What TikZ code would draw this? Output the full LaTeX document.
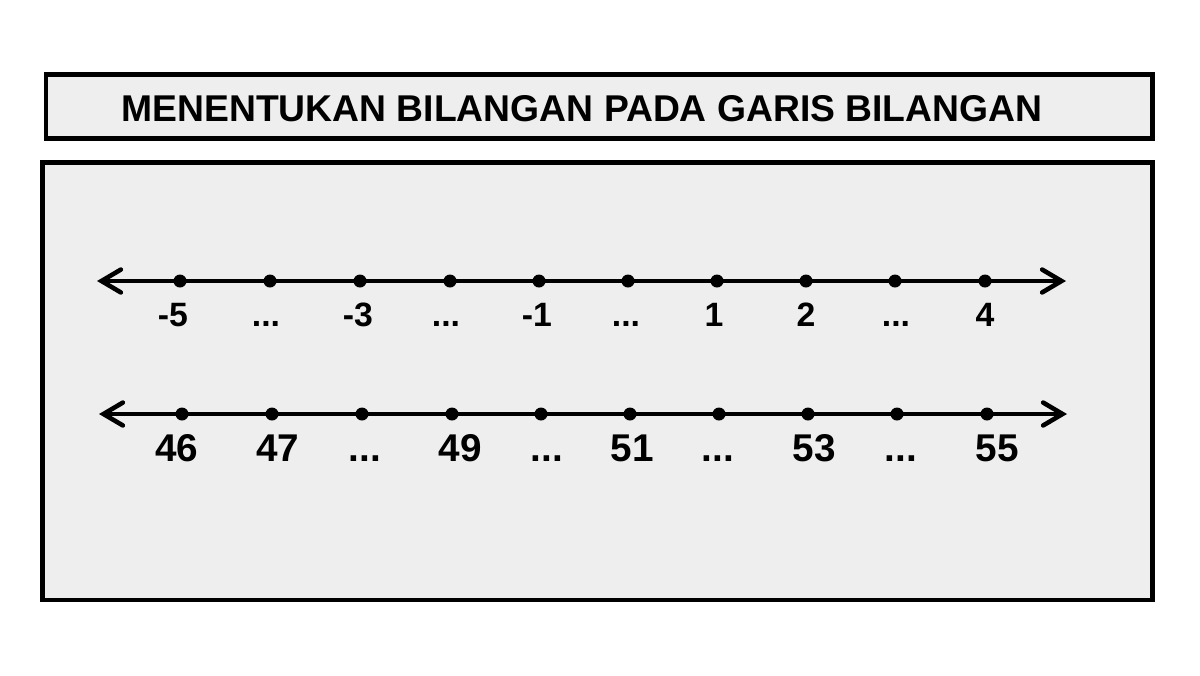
\documentclass[tikz,border=0pt]{standalone}
\usepackage{fontspec}
\setmainfont{Liberation Sans}
\usepackage{xcolor}
\usetikzlibrary{arrows.meta}

\definecolor{panelgray}{RGB}{238,238,238}
\newcommand{\kosong}{...}

\begin{document}
\begin{tikzpicture}[x=0.01cm, y=-0.01cm, line width=1.4pt,
  panel/.style={draw, fill=panelgray, line width=1.4pt},
  numline/.style={{Straight Barb[length=5.5pt,width=6.5pt,line cap=round]}-{Straight Barb[length=5.5pt,width=6.5pt,line cap=round]}, line width=1.3pt},
  dot/.style={circle, fill, inner sep=0pt, minimum size=0.13cm},
  numa/.style={anchor=base, font=\bfseries\fontsize{9.6pt}{11pt}\selectfont},
  numb/.style={anchor=base, font=\bfseries\fontsize{11pt}{13pt}\selectfont}]
\useasboundingbox (0,0) rectangle (1200,675);

% judul
\draw[panel] (46,74.5) rectangle (1152.5,138.5);
\node[anchor=base] (judul) at (582,121) {\bfseries\fontsize{10.6pt}{13pt}\selectfont MENENTUKAN BILANGAN PADA GARIS BILANGAN};

\draw[panel] (42.5,162.5) rectangle (1152.5,600);

% garis bilangan 1
\coordinate (a1) at (97,281);
\coordinate (a2) at (1066,281);
\draw[numline] (a1) -- (a2);
\foreach \x [count=\i] in {180,270,360,450,539,628,717,806,895,985}
  \node[dot] (p\i) at (\x,281) {};
\foreach \x/\t [count=\i] in {173/-5,266/\kosong,358/-3,446/\kosong,537/-1,626/\kosong,714/1,806/2,896/\kosong,985/4}
  \node[numa] (la\i) at (\x,326) {\t};

% garis bilangan 2
\coordinate (b1) at (99,414);
\coordinate (b2) at (1067,414);
\draw[numline] (b1) -- (b2);
\foreach \x [count=\i] in {182,272,362,452,541,630,719,808,897,987}
  \node[dot] (q\i) at (\x,414) {};
\foreach \x/\t [count=\i] in {177/46,278/47,365/\kosong,460/49,547/\kosong,632/51,718/\kosong,814/53,901/\kosong,997/55}
  \node[numb] (lb\i) at (\x,461) {\t};
\end{tikzpicture}
\end{document}
